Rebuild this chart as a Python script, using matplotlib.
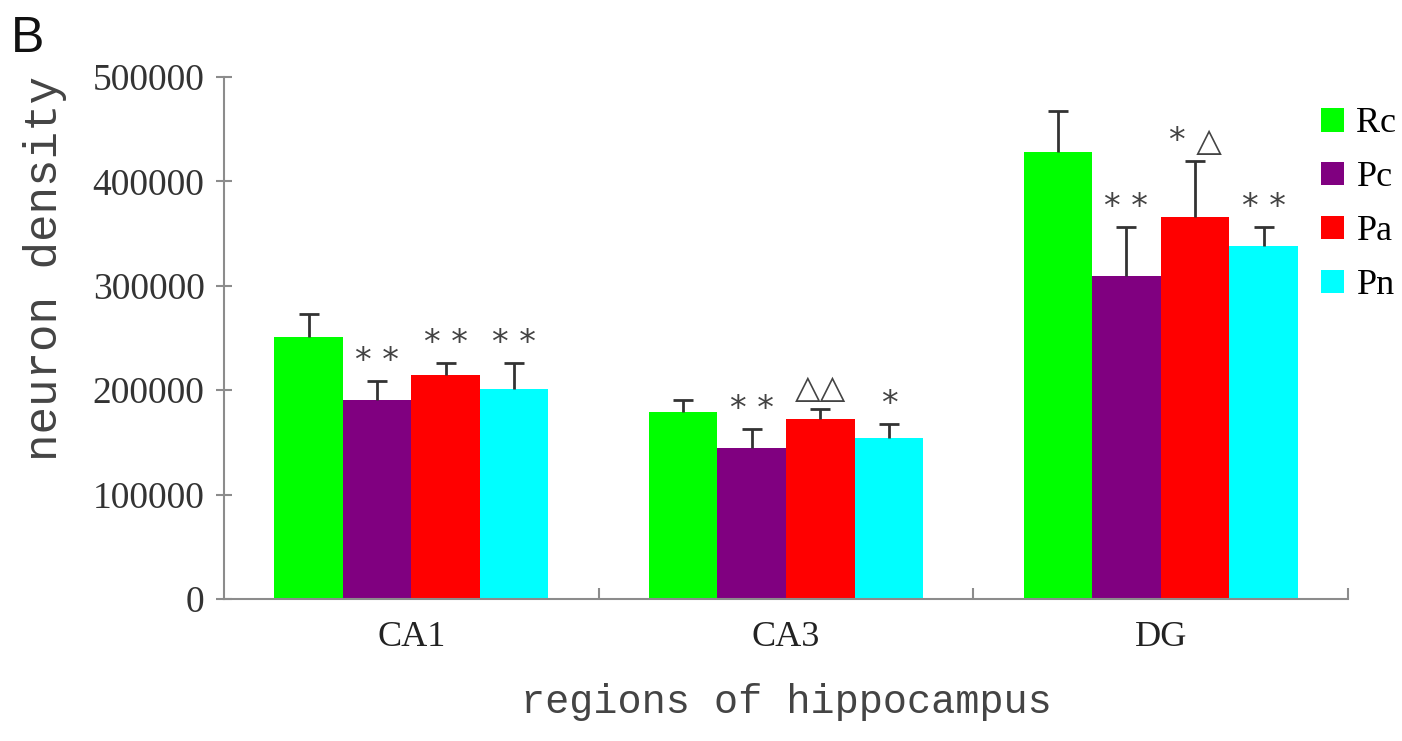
"""Neuron density in hippocampal regions (panel B)"""

import matplotlib
matplotlib.use("Agg")
import matplotlib.pyplot as plt
import numpy as np

# data
regions = ["CA1", "CA3", "DG"]
groups = ["Rc", "Pc", "Pa", "Pn"]
colors = ["#00ff00", "#800080", "#ff0000", "#00ffff"]

rc_mean = [251000, 179000, 428500]
pc_mean = [190500, 145000, 309500]
pa_mean = [214500, 172500, 366000]
pn_mean = [201000, 154500, 338000]

rc_err = [22500, 11500, 39000]
pc_err = [18500, 18000, 47000]
pa_err = [11500, 10000, 53500]
pn_err = [25000, 13500, 18500]

# significance marks above each bar (group index, region index, text)
marks = [
    (1, 0, "* *"), (2, 0, "* *"), (3, 0, "* *"),
    (1, 1, "* *"), (2, 1, "\u25b3\u25b3"), (3, 1, "*"),
    (1, 2, "* *"), (2, 2, "* \u25b3"), (3, 2, "* *"),
]

means = [rc_mean, pc_mean, pa_mean, pn_mean]
errs = [rc_err, pc_err, pa_err, pn_err]

fig = plt.figure(figsize=(14.02, 7.41), dpi=100)
ax = fig.add_axes([0.1598, 0.1916, 0.8017, 0.7044])

x = np.arange(1, len(regions) + 1)
width = 0.183
offsets = (np.arange(len(groups)) - 1.5) * width

axis_col = "#8c8c8c"
for i, g in enumerate(groups):
    bars = ax.bar(x + offsets[i], means[i], width, color=colors[i], label=g,
                  yerr=[np.zeros(len(regions)), errs[i]],
                  error_kw=dict(ecolor="#333333", elinewidth=2, capsize=7, capthick=2),
                  zorder=2)
    # only the upper cap is drawn in the original
    caps = bars.errorbar.lines[1]
    caps[0].set_visible(False)

for gi, ri, txt in marks:
    top = means[gi][ri] + errs[gi][ri]
    ax.text(x[ri] + offsets[gi], top + 3000, txt, ha="center", va="bottom",
            fontsize=24, color="#444444",
            family=["DejaVu Sans"])

ax.set_xlim(0.5, 3.5)
ax.set_ylim(0, 500000)
ax.set_xticks(x)
ax.set_xticklabels(regions, family="Liberation Serif", fontsize=26, color="#222222")
ax.set_xticks([1.5, 2.5, 3.5], minor=True)
ax.tick_params(axis="x", which="major", length=0, pad=16)
ax.tick_params(axis="x", which="minor", direction="in", length=8, color=axis_col, width=1.5)
ax.set_yticks(np.arange(0, 500001, 100000))
ax.set_yticklabels([str(v) for v in range(0, 500001, 100000)],
                   family="Liberation Serif", fontsize=27, color="#333333")
ax.tick_params(axis="y", direction="inout", length=12, color=axis_col, width=1.5, pad=8)

for s in ["top", "right"]:
    ax.spines[s].set_visible(False)
for s in ["left", "bottom"]:
    ax.spines[s].set_color(axis_col)
    ax.spines[s].set_linewidth(1.5)

ax.set_ylabel("neuron density", family="Liberation Mono", fontsize=33,
              color="#444444")
ax.yaxis.set_label_coords(-0.140, 0.634)
ax.set_xlabel("regions of hippocampus", family="Liberation Mono", fontsize=29,
              color="#444444", labelpad=21)

fig.legend(loc="upper left", bbox_to_anchor=(0.932, 0.8745), frameon=False,
           prop=dict(family="Liberation Serif", size=26),
           handlelength=0.63, handleheight=0.63, handletextpad=0.35,
           labelspacing=0.58, borderaxespad=0)

fig.text(0.008, 0.93, "B", family="Liberation Sans", fontsize=36, color="#111111")

fig.savefig("out.png", dpi=100)
